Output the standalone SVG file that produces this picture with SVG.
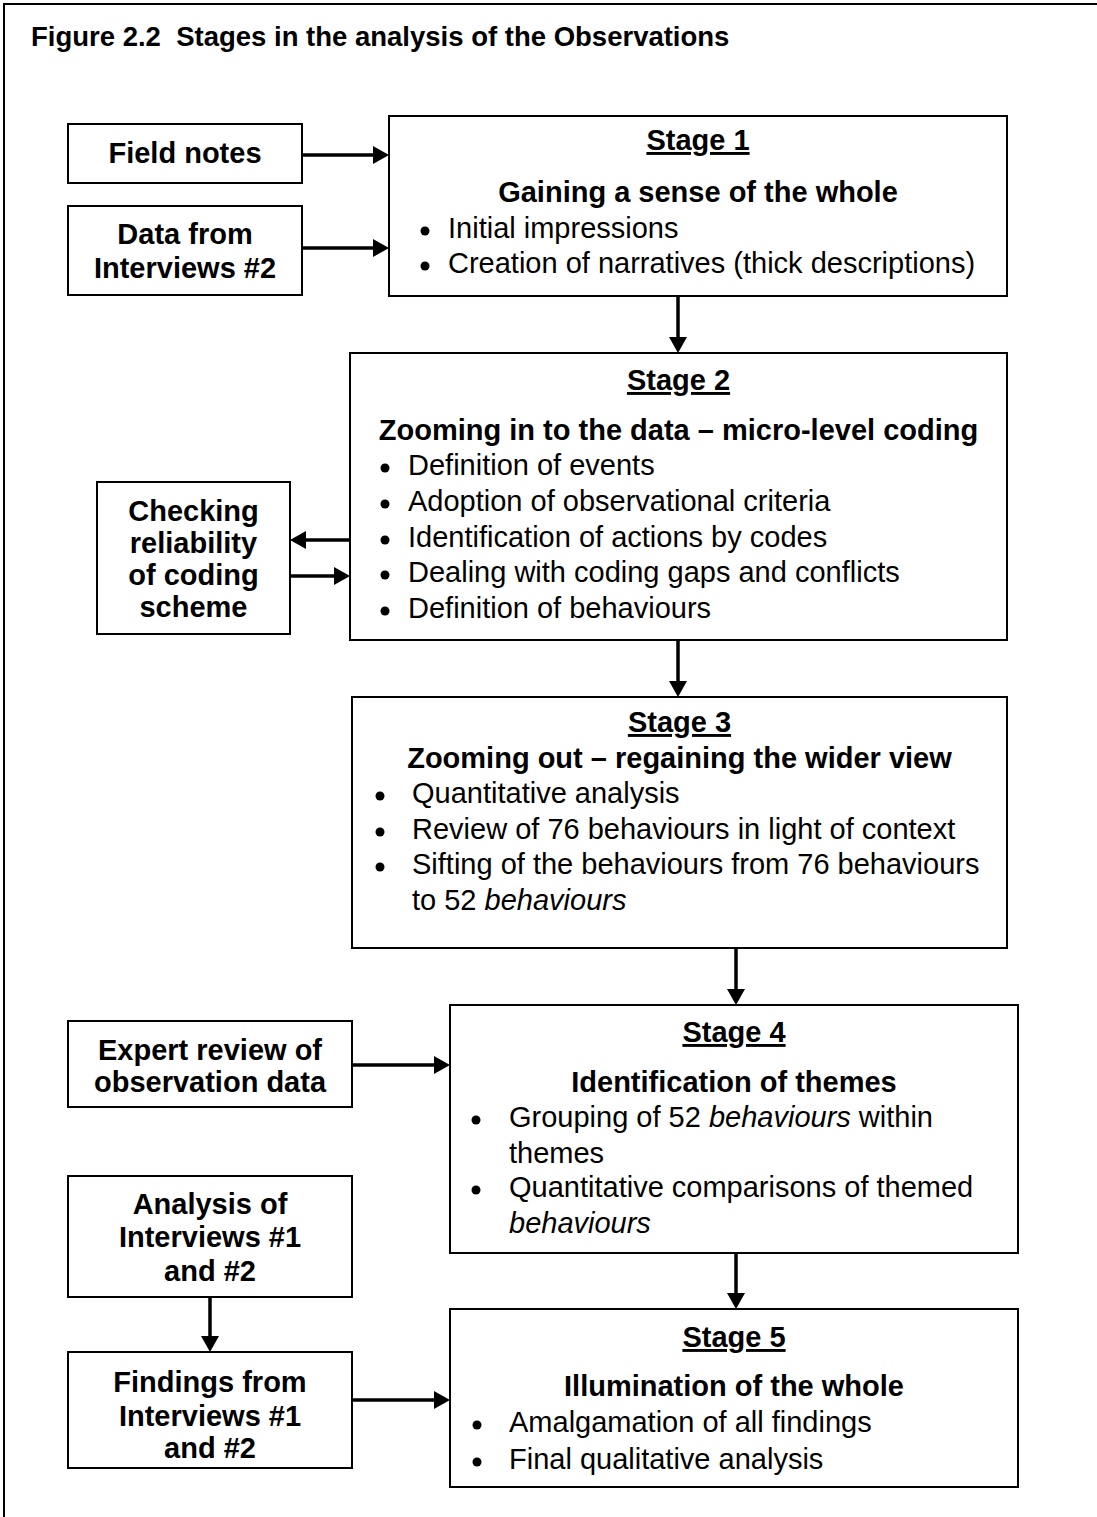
<svg xmlns="http://www.w3.org/2000/svg" width="1097" height="1517" viewBox="0 0 1097 1517">
<defs>
<marker id="ah" viewBox="0 0 16 18" refX="6" refY="9" markerWidth="16" markerHeight="18" markerUnits="userSpaceOnUse" orient="auto">
<path d="M0,0 L16,9 L0,18 Z" fill="#000"/>
</marker>
<style>
.box{fill:#fff;stroke:#000;stroke-width:2}
.b{font-family:"Liberation Sans",Arial,sans-serif;font-weight:bold;font-size:29px;fill:#000}
.r{font-family:"Liberation Sans",Arial,sans-serif;font-size:29px;fill:#000}
.c{text-anchor:middle}
.u{text-decoration:underline}
.i{font-style:italic}
.con{stroke:#000;stroke-width:3.5;fill:none;marker-end:url(#ah)}
.dot{fill:#000}
</style>
</defs>
<rect width="1097" height="1517" fill="#fff"/>
<path d="M4,1517 V4 H1097" fill="none" stroke="#000" stroke-width="2"/>
<text class="b" x="31" y="46" style="font-size:27.5px" xml:space="preserve">Figure 2.2  Stages in the analysis of the Observations</text>

<g id="field-notes">
<rect class="box" x="68" y="124" width="234" height="59"/>
<text class="b c" x="185" y="163">Field notes</text>
</g>
<g id="data-interviews2">
<rect class="box" x="68" y="206" width="234" height="89"/>
<text class="b c" x="185" y="244">Data from</text>
<text class="b c" x="185" y="278">Interviews #2</text>
</g>
<g id="stage1">
<rect class="box" x="389" y="116" width="618" height="180"/>
<text class="b c u" x="698" y="150">Stage 1</text>
<text class="b c" x="698" y="202">Gaining a sense of the whole</text>
<circle class="dot" cx="425" cy="231" r="4.5"/>
<text class="r" x="448" y="238">Initial impressions</text>
<circle class="dot" cx="425" cy="266" r="4.5"/>
<text class="r" x="448" y="273">Creation of narratives (thick descriptions)</text>
</g>
<g id="stage2">
<rect class="box" x="350" y="353" width="657" height="287"/>
<text class="b c u" x="678.5" y="390">Stage 2</text>
<text class="b c" x="678.5" y="440">Zooming in to the data – micro-level coding</text>
<circle class="dot" cx="385" cy="468" r="4.5"/>
<text class="r" x="408" y="475">Definition of events</text>
<circle class="dot" cx="385" cy="504" r="4.5"/>
<text class="r" x="408" y="511">Adoption of observational criteria</text>
<circle class="dot" cx="385" cy="540" r="4.5"/>
<text class="r" x="408" y="547">Identification of actions by codes</text>
<circle class="dot" cx="385" cy="575" r="4.5"/>
<text class="r" x="408" y="582">Dealing with coding gaps and conflicts</text>
<circle class="dot" cx="385" cy="611" r="4.5"/>
<text class="r" x="408" y="618">Definition of behaviours</text>
</g>
<g id="checking">
<rect class="box" x="97" y="482" width="193" height="152"/>
<text class="b c" x="193.5" y="521">Checking</text>
<text class="b c" x="193.5" y="553">reliability</text>
<text class="b c" x="193.5" y="585">of coding</text>
<text class="b c" x="193.5" y="617">scheme</text>
</g>
<g id="stage3">
<rect class="box" x="352" y="697" width="655" height="251"/>
<text class="b c u" x="679.5" y="732">Stage 3</text>
<text class="b c" x="679.5" y="768">Zooming out – regaining the wider view</text>
<circle class="dot" cx="380" cy="796" r="4.5"/>
<text class="r" x="412" y="803">Quantitative analysis</text>
<circle class="dot" cx="380" cy="832" r="4.5"/>
<text class="r" x="412" y="839">Review of 76 behaviours in light of context</text>
<circle class="dot" cx="380" cy="867" r="4.5"/>
<text class="r" x="412" y="874">Sifting of the behaviours from 76 behaviours</text>
<text class="r" x="412" y="910">to 52 <tspan class="i">behaviours</tspan></text>
</g>
<g id="expert">
<rect class="box" x="68" y="1021" width="284" height="86"/>
<text class="b c" x="210" y="1060">Expert review of</text>
<text class="b c" x="210" y="1092">observation data</text>
</g>
<g id="stage4">
<rect class="box" x="450" y="1005" width="568" height="248"/>
<text class="b c u" x="734" y="1042">Stage 4</text>
<text class="b c" x="734" y="1092">Identification of themes</text>
<circle class="dot" cx="476" cy="1120" r="4.5"/>
<text class="r" x="509" y="1127">Grouping of 52 <tspan class="i">behaviours</tspan> within</text>
<text class="r" x="509" y="1163">themes</text>
<circle class="dot" cx="476" cy="1190" r="4.5"/>
<text class="r" x="509" y="1197">Quantitative comparisons of themed</text>
<text class="r" x="509" y="1233"><tspan class="i">behaviours</tspan></text>
</g>
<g id="analysis">
<rect class="box" x="68" y="1176" width="284" height="121"/>
<text class="b c" x="210" y="1214">Analysis of</text>
<text class="b c" x="210" y="1247">Interviews #1</text>
<text class="b c" x="210" y="1281">and #2</text>
</g>
<g id="findings">
<rect class="box" x="68" y="1352" width="284" height="116"/>
<text class="b c" x="210" y="1392">Findings from</text>
<text class="b c" x="210" y="1426">Interviews #1</text>
<text class="b c" x="210" y="1458">and #2</text>
</g>
<g id="stage5">
<rect class="box" x="450" y="1309" width="568" height="178"/>
<text class="b c u" x="734" y="1347">Stage 5</text>
<text class="b c" x="734" y="1396">Illumination of the whole</text>
<circle class="dot" cx="477" cy="1425" r="4.5"/>
<text class="r" x="509" y="1432">Amalgamation of all findings</text>
<circle class="dot" cx="477" cy="1462" r="4.5"/>
<text class="r" x="509" y="1469">Final qualitative analysis</text>
</g>

<g id="connectors">
<line class="con" x1="302" y1="155" x2="379" y2="155"/>
<line class="con" x1="302" y1="248" x2="379" y2="248"/>
<line class="con" x1="678" y1="296" x2="678" y2="343"/>
<line class="con" x1="350" y1="540" x2="300" y2="540"/>
<line class="con" x1="290" y1="576" x2="340" y2="576"/>
<line class="con" x1="678" y1="640" x2="678" y2="687"/>
<line class="con" x1="736" y1="948" x2="736" y2="995"/>
<line class="con" x1="352" y1="1065" x2="440" y2="1065"/>
<line class="con" x1="736" y1="1253" x2="736" y2="1299"/>
<line class="con" x1="210" y1="1297" x2="210" y2="1342"/>
<line class="con" x1="352" y1="1400" x2="440" y2="1400"/>
</g>
</svg>
